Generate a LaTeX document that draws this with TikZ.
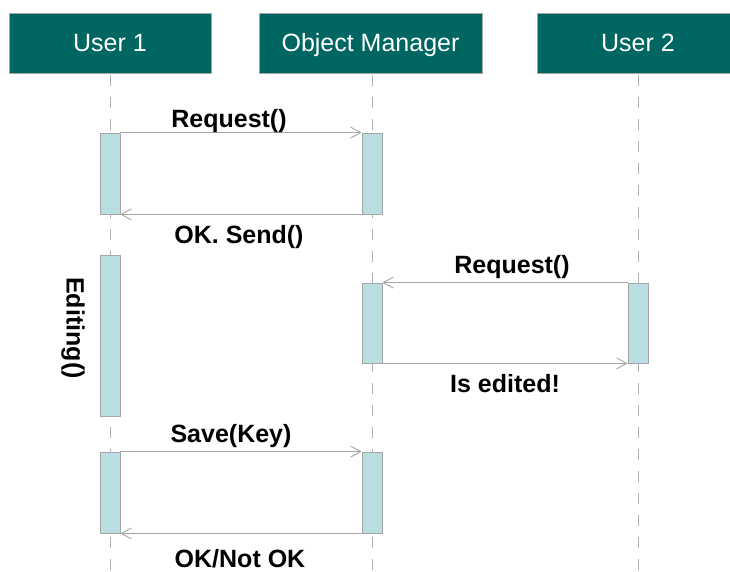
\documentclass[tikz,border=0pt]{standalone}
\usepackage{fontspec}
\setmainfont{Liberation Sans}
\usetikzlibrary{arrows.meta}
\definecolor{teal1}{HTML}{006661}
\definecolor{barfill}{HTML}{B8DEE2}
\definecolor{edge}{HTML}{A6A6A6}
\definecolor{lifegray}{HTML}{B0B0B0}
\begin{document}
\begin{tikzpicture}[x=1pt,y=-1pt,
  header/.style={draw=edge,line width=0.8pt,fill=teal1,text=white,inner sep=0pt,
    text height=18pt,text depth=0pt,
    minimum width=202pt,minimum height=60pt,font=\fontsize{25}{30}\selectfont},
  bar/.style={draw=edge,line width=0.8pt,fill=barfill,inner sep=0pt,minimum width=20pt},
  life/.style={draw=lifegray,line width=0.8pt,dash pattern=on 11pt off 11pt},
  msg/.style={draw=edge,line width=0.9pt,-{Straight Barb[length=10pt,width=11pt,line width=0.9pt]}},
  lbl/.style={font=\fontsize{25}{30}\selectfont\bfseries,inner sep=0pt}]
\useasboundingbox (0,0) rectangle (730,572);
\fill[white] (0,0) rectangle (730,572);
% headers
\node[header] (h1) at (110,43) {User 1};
\node[header,minimum width=223pt] (h2) at (370.5,43) {Object Manager};
\node[header] (h3) at (638,43) {User 2};
% lifeline ends
\coordinate (e1) at (110,572);
\coordinate (e2) at (372,572);
\coordinate (e3) at (638,572);
\draw[life] (h1.south) ++(0,2) -- (e1);
\draw[life] (372,73) ++(0,2) -- (e2);
\draw[life] (h3.south) ++(0,2) -- (e3);
% activation bars
\node[bar,minimum height=81pt] (a1) at (110,173.5) {};
\node[bar,minimum height=81pt] (a2) at (372,173.5) {};
\node[bar,minimum height=161pt] (a3) at (110,335.5) {};
\node[bar,minimum height=80pt] (a4) at (372,323) {};
\node[bar,minimum height=80pt] (a5) at (638,323) {};
\node[bar,minimum height=81pt] (a6) at (110,492.5) {};
\node[bar,minimum height=81pt] (a7) at (372,492.5) {};
% messages
\draw[msg] (a1.north east) -- (a2.north west);
\draw[msg] (a2.south west) -- (a1.south east);
\draw[msg] (a5.north west) -- (a4.north east);
\draw[msg] (a4.south east) -- (a5.south west);
\draw[msg] (a6.north east) -- (a7.north west);
\draw[msg] (a7.south west) -- (a6.south east);
% labels
\node[lbl] (l1) at (229,121) {Request()};
\node[lbl] (l2) at (239,237) {OK. Send()};
\node[lbl] (l3) at (512,267) {Request()};
\node[lbl] (l4) at (505,384) {Is edited!};
\node[lbl] (l5) at (231,436) {Save(Key)};
\node[lbl] (l6) at (240,559) {OK/Not OK};
\node[lbl,rotate=-90] (l7) at (73,328) {Editing()};
\end{tikzpicture}
\end{document}
